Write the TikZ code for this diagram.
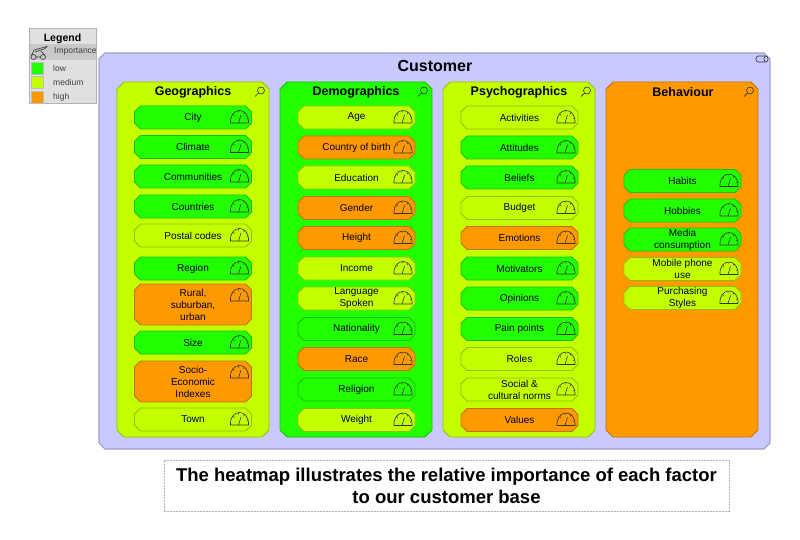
\documentclass[tikz,border=0pt]{standalone}
\usepackage{fontspec}
\setmainfont{Liberation Sans}
\usepackage{tikz}
\definecolor{low}{RGB}{34,255,0}
\definecolor{medium}{RGB}{196,255,0}
\definecolor{high}{RGB}{255,153,0}
\definecolor{customer}{RGB}{201,201,255}
\definecolor{legendbg}{RGB}{224,224,224}
\definecolor{legendrow}{RGB}{200,200,200}
\def\chamfersize{5pt}
\makeatletter
\pgfdeclareshape{octobox}{
    \inheritsavedanchors[from=rectangle]
    \inheritanchorborder[from=rectangle]
    \inheritanchor[from=rectangle]{center}
    \inheritanchor[from=rectangle]{north}
    \inheritanchor[from=rectangle]{south}
    \inheritanchor[from=rectangle]{east}
    \inheritanchor[from=rectangle]{west}
    \inheritanchor[from=rectangle]{north east}
    \inheritanchor[from=rectangle]{north west}
    \inheritanchor[from=rectangle]{south east}
    \inheritanchor[from=rectangle]{south west}
    \backgroundpath{
        \southwest \edef\octoxa{\the\pgf@x}\edef\octoya{\the\pgf@y}
        \northeast \edef\octoxb{\the\pgf@x}\edef\octoyb{\the\pgf@y}
        \pgfpathmoveto{\pgfpoint{\octoxa+\chamfersize}{\octoya}}
        \pgfpathlineto{\pgfpoint{\octoxb-\chamfersize}{\octoya}}
        \pgfpathlineto{\pgfpoint{\octoxb}{\octoya+\chamfersize}}
        \pgfpathlineto{\pgfpoint{\octoxb}{\octoyb-\chamfersize}}
        \pgfpathlineto{\pgfpoint{\octoxb-\chamfersize}{\octoyb}}
        \pgfpathlineto{\pgfpoint{\octoxa+\chamfersize}{\octoyb}}
        \pgfpathlineto{\pgfpoint{\octoxa}{\octoyb-\chamfersize}}
        \pgfpathlineto{\pgfpoint{\octoxa}{\octoya+\chamfersize}}
        \pgfpathclose
    }
}
\makeatother
\tikzset{
    chamf/.code={\def\chamfersize{#1}\tikzset{shape=octobox,outer sep=0pt,inner sep=0pt}},
    factor/.style={chamf=6pt,draw=#1!75!black,fill=#1,line width=0.8pt,minimum width=117pt,minimum height=23pt,
        align=center,font=\fontsize{10}{12}\selectfont},
    group/.style={chamf=7pt,draw=#1!75!black,fill=#1,line width=0.8pt,minimum width=152pt,minimum height=355pt},
    grouptitle/.style={font=\fontsize{12.5}{14}\selectfont\bfseries},
    legendtext/.style={font=\fontsize{8.5}{10}\selectfont,text=black!75,anchor=west,inner sep=0pt},
    swatch/.style={draw=black!25,fill=#1,minimum width=12pt,minimum height=12pt,inner sep=0pt},
    gauge/.pic={
        \draw[line width=0.6pt,black!80] (-9,0) .. controls (-9.5,-8) and (-5,-12.5) .. (0,-12.5) .. controls (5,-12.5) and (9.5,-8) .. (9,0) -- cycle;
        \draw[line width=0.6pt,black!80] (-1,0) -- (1.5,-8);
        \draw[line width=0.5pt,black!80] (-6,-9) -- (-5,-7.5) (-1,-12.5) -- (-1,-10.5) (5,-10.5) -- (4,-9) (8.5,-4.5) -- (7,-4);
    },
    lens/.pic={
        \draw[line width=0.6pt,black!80] (0,0) circle (3.5);
        \draw[line width=0.7pt,black!80] (-2.5,2.5) -- (-6,6);
    }
}
\begin{document}
\begin{tikzpicture}[x=1pt,y=-1pt]
    \useasboundingbox (0,0) rectangle (800,540);

    % legend
    \node[draw=black!30,fill=legendbg,line width=1pt,minimum width=67pt,minimum height=75pt,inner sep=0pt] (legend) at (62.5,66.5) {};
    \node[fill=legendrow,minimum width=66pt,minimum height=16pt,inner sep=0pt] (legendhead) at (62.5,52.5) {};
    \node[font=\fontsize{10.5}{12}\selectfont\bfseries] (legendtitle) at (62.5,38.5) {Legend};
    \node[legendtext] (importance) at (54,51) {Importance};
    \foreach \y/\c/\t in {68/low/low,82/medium/medium,97/high/high}
    {
        \node[swatch=\c] (swatch\c) at (37,\y) {};
        \node[legendtext] (label\c) at (53,\y) {\t};
    }
    \draw[line width=0.6pt,black!80] (33.5,57) circle (2.5) (43,57) circle (2.5) (36,57) -- (40.5,57);
    \draw[line width=0.6pt,black!80] (31.5,55.5) -- (34,50) -- (47,46.5) -- (45,48.5) -- (35,52) (45,55.5) -- (41,51);

    % customer
    \node[chamf=6pt,draw=black!20!customer,fill=customer,line width=1.2pt,minimum width=671pt,minimum height=396pt] (customer) at (434.5,251) {};
    \node[font=\fontsize{16}{18}\selectfont\bfseries] (customertitle) at (435,65.5) {Customer};
    \draw[line width=0.6pt,black!80,rounded corners=2.5pt] (756,56) rectangle (768,62);
    \draw[line width=0.6pt,black!80] (765,56) .. controls (763.5,58) and (763.5,60) .. (765,62);

    % columns
    \node[group=medium] (geographics) at (193,259.5) {};
    \node[group=low] (demographics) at (356,259.5) {};
    \node[group=medium] (psychographics) at (519,259.5) {};
    \node[group=high] (behaviour) at (682,259.5) {};
    \foreach \n/\t/\x in {geographics/Geographics/193,demographics/Demographics/356,psychographics/Psychographics/519,behaviour/Behaviour/683}
    {
        \node[grouptitle] (\n title) at (\x,92.5) {\t};
        \pic at ([xshift=-8pt,yshift=-8.5pt]\n.north east) {lens};
    }

    % factors
    \foreach \y/\h/\c/\t [count=\n] in {
        117.5/23/low/City,147/23/low/Climate,176.5/23/low/Communities,206.5/23/low/Countries,
        235.5/23/medium/Postal codes,268.5/23/low/Region,304.5/41/high/{Rural,\\suburban,\\urban},
        342.5/23/low/Size,381.5/41/high/{Socio-\\Economic\\Indexes},419.5/23/medium/Town}
    {
        \node[factor=\c,minimum height=\h pt] (geo\n) at (193,\y) {\t};
        \pic at ([xshift=-12pt,yshift=-17pt]geo\n.north east) {gauge};
    }
    \foreach \y/\c/\t [count=\n] in {
        117.5/medium/Age,147.5/high/Country of birth,177.5/medium/Education,208/high/Gender,238/high/Height,
        268.5/medium/Income,298.5/medium/{Language\\Spoken},329/low/Nationality,359/high/Race,389.5/low/Religion,420/medium/Weight}
    {
        \node[factor=\c] (demo\n) at (356.5,\y) {\t};
        \pic at ([xshift=-12pt,yshift=-17pt]demo\n.north east) {gauge};
    }
    \foreach \y/\c/\t [count=\n] in {
        117.5/medium/Activities,147.5/low/Attitudes,177.5/low/Beliefs,208/medium/Budget,238/high/Emotions,
        268.5/low/Motivators,298.5/low/Opinions,329/low/Pain points,359/medium/Roles,389.5/medium/{Social \&\\cultural norms},420/high/Values}
    {
        \node[factor=\c] (psycho\n) at (519.5,\y) {\t};
        \pic at ([xshift=-12pt,yshift=-17pt]psycho\n.north east) {gauge};
    }
    \foreach \y/\c/\t [count=\n] in {
        181/low/Habits,210.5/low/Hobbies,239.5/low/{Media\\consumption},269/medium/{Mobile phone\\use},298/medium/{Purchasing\\Styles}}
    {
        \node[factor=\c] (behav\n) at (682.5,\y) {\t};
        \pic at ([xshift=-12pt,yshift=-17pt]behav\n.north east) {gauge};
    }

    % caption
    \node[draw=black!30,dash pattern=on 2pt off 1pt,line width=0.6pt,minimum width=565pt,minimum height=51pt,inner sep=0pt,align=center,
        font=\fontsize{18.5}{22}\selectfont\bfseries] (caption) at (446.5,485.5)
        {The heatmap illustrates the relative importance of each factor\\to our customer base};
\end{tikzpicture}
\end{document}
